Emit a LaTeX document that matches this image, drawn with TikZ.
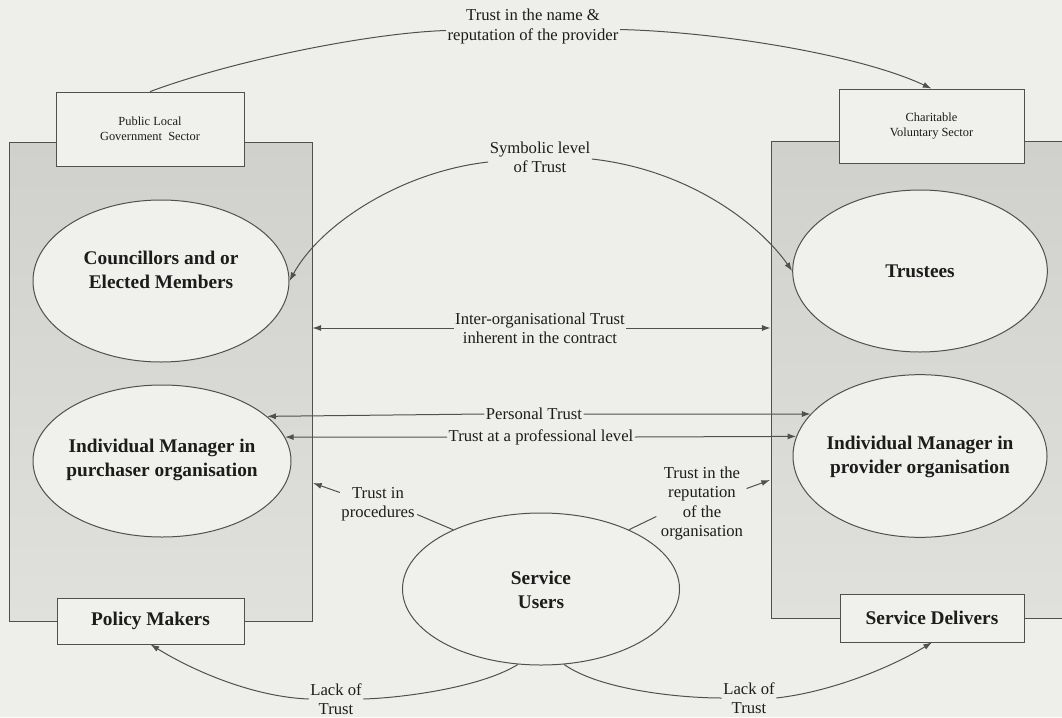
\documentclass[tikz,border=0pt]{standalone}
\usepackage{fontspec}
\setmainfont{Liberation Serif}
\usetikzlibrary{shapes.geometric,arrows.meta,calc,fit}
\definecolor{paper}{RGB}{238,239,234}
\definecolor{shellfill}{RGB}{240,240,236}
\definecolor{panelTop}{RGB}{208,208,205}
\definecolor{panelBot}{RGB}{224,224,220}
\definecolor{ink}{RGB}{80,80,80}
\definecolor{txt}{RGB}{28,28,28}

\tikzset{
  panel/.style={draw=ink, line width=0.6pt, top color=panelTop, bottom color=panelBot, inner sep=0pt},
  actor/.style={ellipse, draw=ink, line width=0.75pt, fill=shellfill, inner sep=0pt},
  actortext/.style={text=txt, align=center, inner sep=0pt, font=\fontsize{14.5}{18}\selectfont\bfseries},
  sectorbox/.style={rectangle, draw=ink, line width=0.6pt, fill=shellfill, inner sep=0pt, text=txt, align=center, font=\fontsize{9.3}{11.3}\selectfont},
  rolebox/.style={rectangle, draw=ink, line width=0.6pt, fill=shellfill, inner sep=0pt, text=txt, align=center, font=\fontsize{14.5}{18}\selectfont\bfseries},
  lbl/.style={text=txt, align=center, inner sep=1pt, font=\fontsize{12.5}{14.5}\selectfont},
  link/.style={draw=ink, line width=0.75pt},
  arr/.style={link, -{Latex[length=6.5pt,width=4.5pt]}},
}

\begin{document}
\begin{tikzpicture}[x=0.75pt,y=-0.75pt]
  \useasboundingbox (0,0) rectangle (1062,717);
  \fill[paper] (0,0) rectangle (1062,717);

  % sector panels
  \node[panel, fit={(9,142) (312,621)}] (lp) {};
  \node[panel, fit={(771,141) (1075,618)}] (rp) {};

  % sector name boxes
  \node[sectorbox, minimum width=141pt, minimum height=55.5pt] (pub) at (150,129) {Public Local\\Government\ \ Sector};
  \node[sectorbox, minimum width=138.75pt, minimum height=55.5pt] (cha) at (931.5,126) {Charitable\\Voluntary Sector};

  % role boxes
  \node[rolebox, minimum width=140.25pt, minimum height=34.5pt] (pm) at (150.5,621) {Policy Makers};
  \node[rolebox, minimum width=138pt, minimum height=36pt] (sd) at (932,618) {Service Delivers};

  % actors
  \node[actor, minimum width=192pt, minimum height=121.5pt] (cou) at (161,281) {};
  \node[actortext] (couText) at (161,270) {Councillors and or\\Elected Members};
  \node[actor, minimum width=193.5pt, minimum height=114pt] (pur) at (162,461) {};
  \node[actortext] (purText) at (162,460) {Individual Manager in\\purchaser organisation};
  \node[actor, minimum width=191pt, minimum height=121.5pt] (tru) at (920,271) {};
  \node[actortext] (truText) at (920,271) {Trustees};
  \node[actor, minimum width=190.5pt, minimum height=122pt] (prv) at (920,456) {};
  \node[actortext] (prvText) at (920,456.5) {Individual Manager in\\provider organisation};
  \node[actor, minimum width=207.75pt, minimum height=114pt] (su) at (541,589) {};
  \node[actortext] (suText) at (541,590) {Service\\Users};

  % connector labels
  \node[lbl] (nm) at (533,26.5) {Trust in the name \&\\reputation of the provider};
  \node[lbl] (sym) at (540,157) {Symbolic level\\of Trust};
  \node[lbl] (io) at (540,328) {Inter-organisational Trust\\inherent in the contract};
  \node[lbl] (pt) at (534,414) {Personal Trust};
  \node[lbl] (pp) at (541,437) {Trust at a professional level};
  \node[lbl] (tp) at (378,504.5) {Trust in\\procedures};
  \node[lbl] (tr) at (702,503.5) {Trust in the\\reputation\\of the\\organisation};
  \node[lbl] (lt1) at (336,699) {Lack of\\Trust};
  \node[lbl] (lt2) at (749,698) {Lack of\\Trust};

  % free ends on the panel borders
  \coordinate (procTip) at (313,483);
  \coordinate (repTip) at (770,480);

  % trust in the name and reputation of the provider
  \draw[link] (pub.north) .. controls (235,60) and (370,33) .. ($(nm.west)+(0,4)$);
  \draw[arr] ($(nm.east)+(0,3)$) .. controls (720,32) and (860,55) .. (cha.north);

  % symbolic level of trust
  \draw[arr] ($(sym.west)+(0,5)$) .. controls (400,172) and (320,225) .. (cou.east);
  \draw[arr] ($(sym.east)+(0,2)$) .. controls (690,170) and (760,225) .. (tru.west);

  % inter-organisational trust
  \draw[arr] (io.west) -- (io.west -| lp.east);
  \draw[arr] (io.east) -- (io.east -| rp.west);

  % personal and professional trust
  \draw[arr] (pt.west) -- (pur.23);
  \draw[arr] (pt.east) -- (prv.159);
  \draw[arr] (pp.west) -- (pur.11);
  \draw[arr] (pp.east) -- (prv.171);

  % service users' trust
  \draw[link] (su.146) -- ($(tp.east)+(1,10)$);
  \draw[arr] ($(tp.west)+(0,-12)$) -- (procTip);
  \draw[link] (su.34) -- ($(tr.west)+(-3,13)$);
  \draw[arr] ($(tr.east)+(2,-15)$) -- (repTip);

  % lack of trust
  \draw[link] (su.253) .. controls (480,688) and (400,698) .. (lt1.east);
  \draw[arr] (lt1.west) .. controls (255,697) and (195,672) .. (pm.south);
  \draw[link] (su.287) .. controls (600,690) and (680,698) .. (lt2.west);
  \draw[arr] (lt2.east) .. controls (830,692) and (890,668) .. (sd.south);
\end{tikzpicture}
\end{document}
